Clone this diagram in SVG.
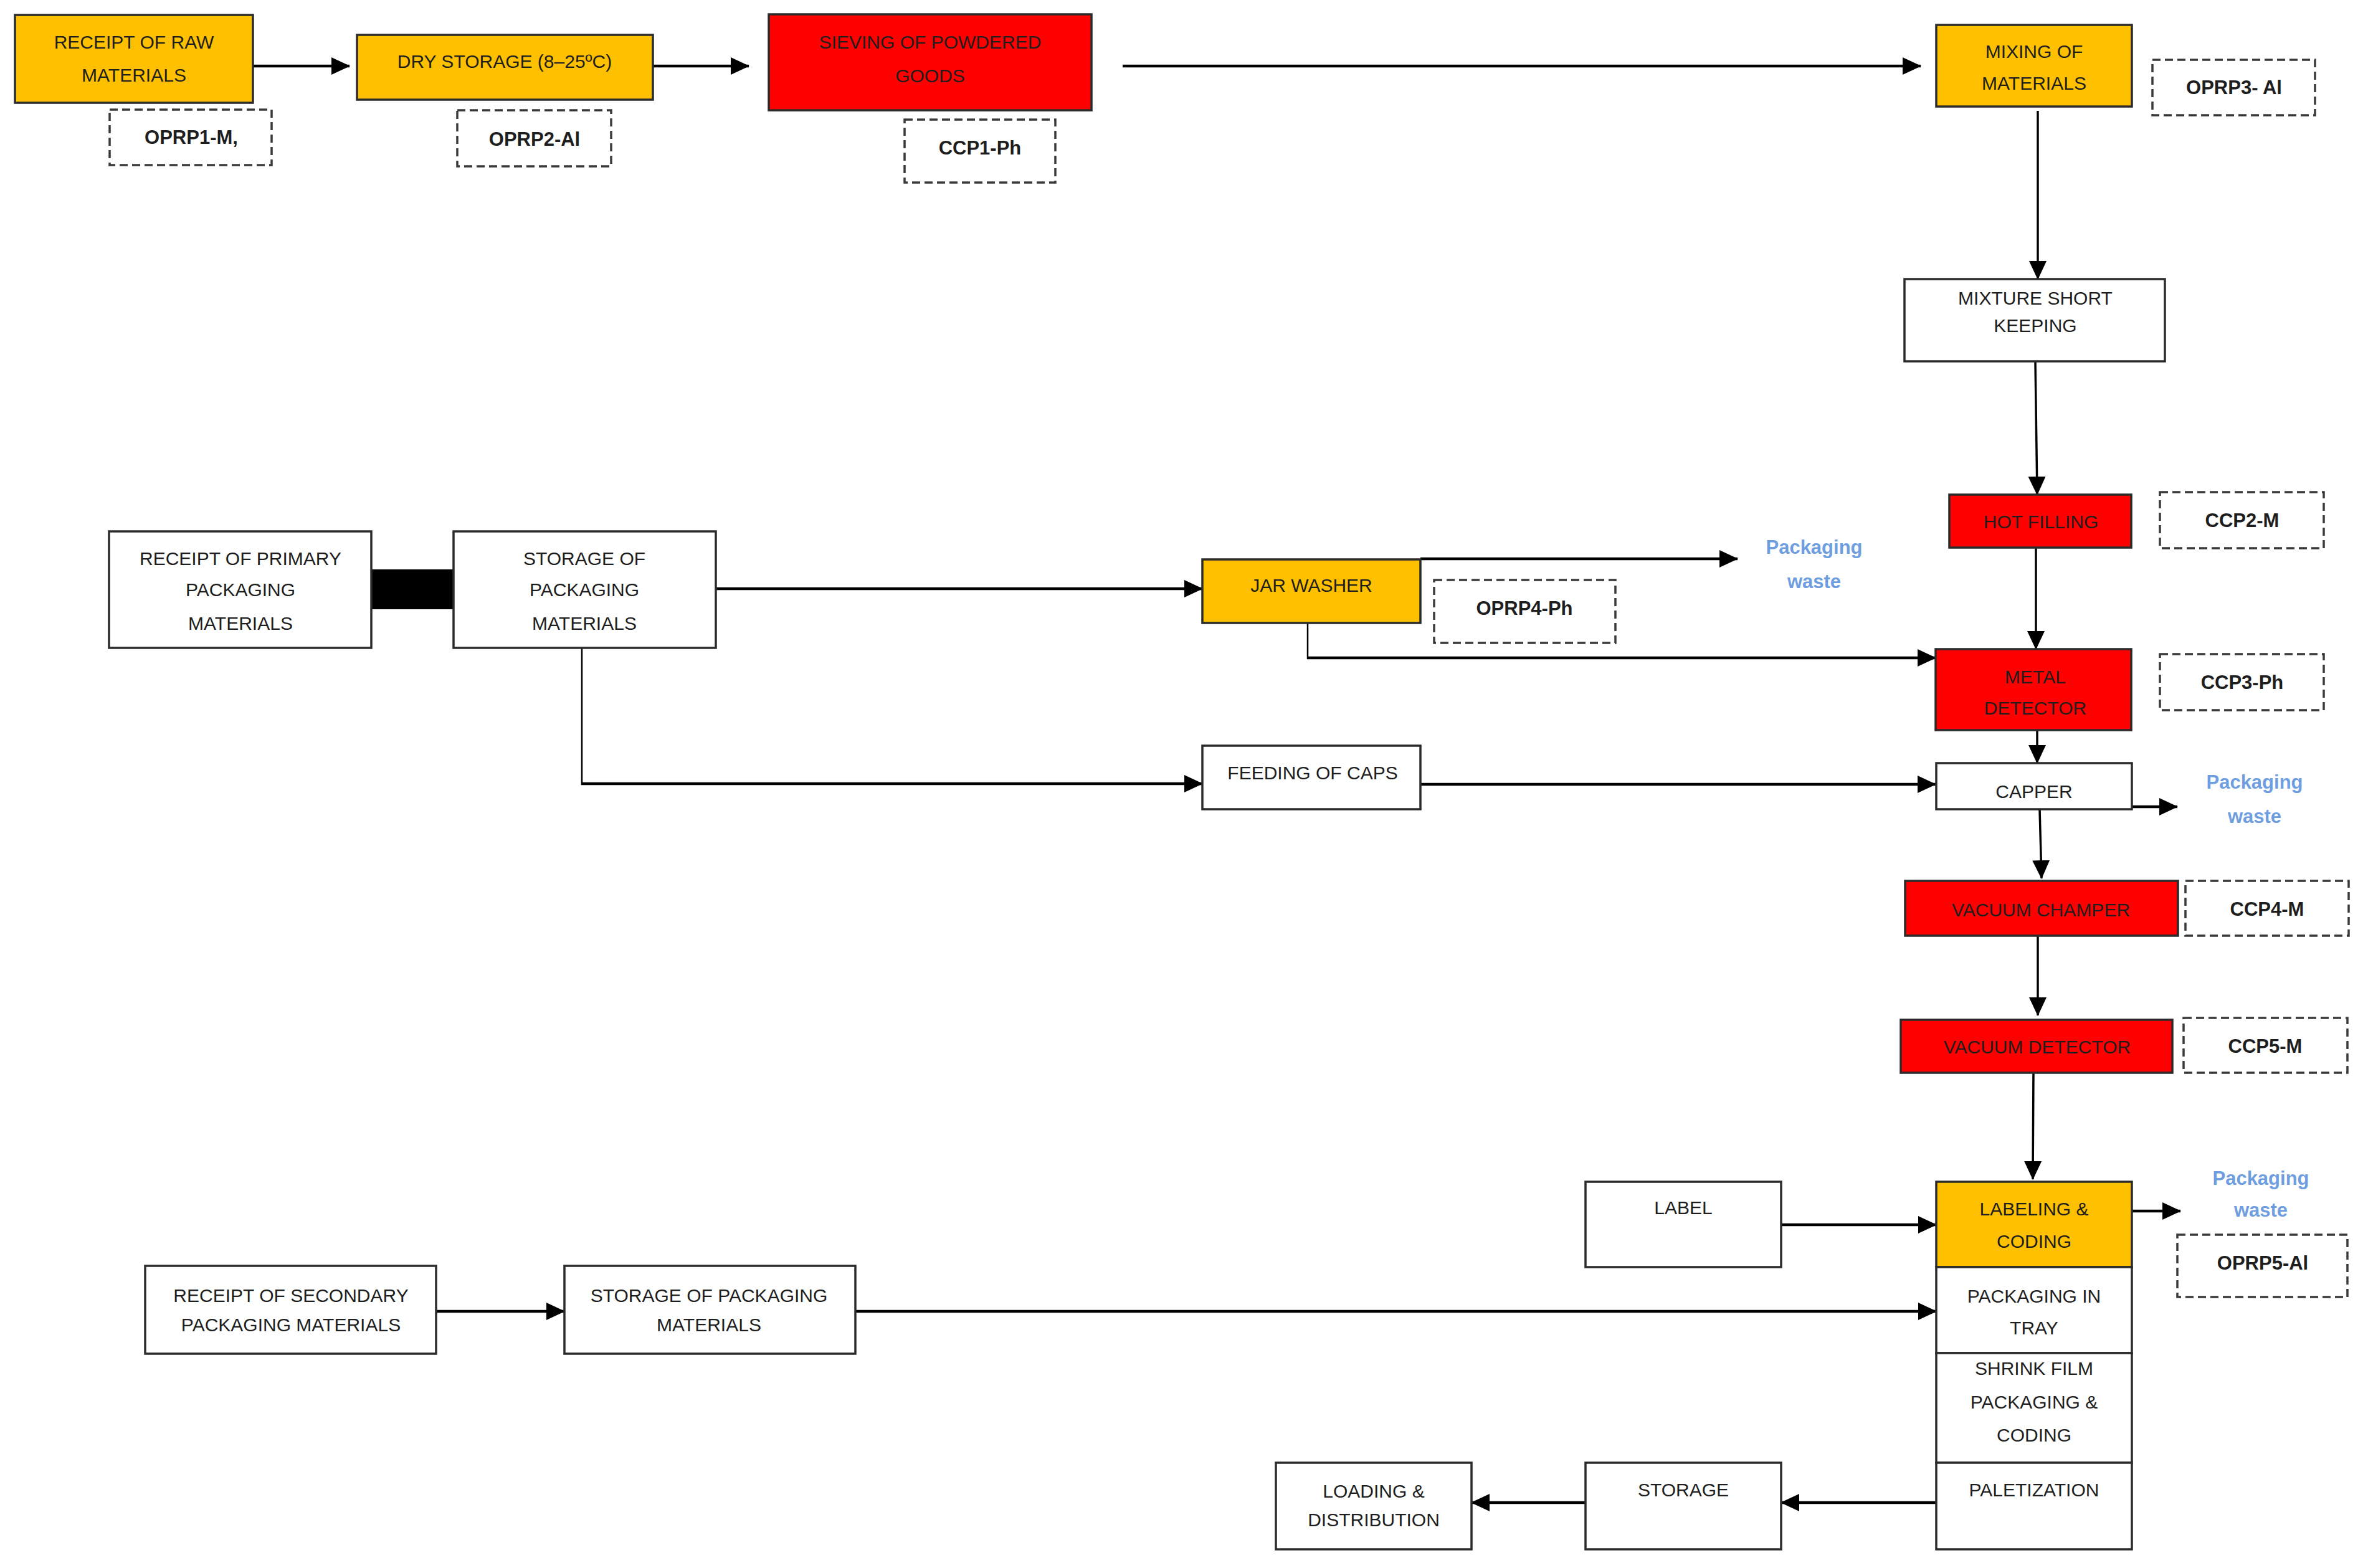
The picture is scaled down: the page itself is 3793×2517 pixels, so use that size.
<svg xmlns="http://www.w3.org/2000/svg" width="3793" height="2517" viewBox="0 0 3793 2517">
<style>
.box{stroke:#2b2b2b;stroke-width:3.5}
.w{fill:#ffffff}
.o{fill:#FFC000}
.r{fill:#FF0000}
.d{fill:#ffffff;stroke:#3a3a3a;stroke-width:3.5;stroke-dasharray:13 7}
.t{font-family:"Liberation Sans",Arial,sans-serif;font-size:30px;fill:#1e1e1e;text-anchor:middle}
.c{font-family:"Liberation Sans",Arial,sans-serif;font-size:31px;font-weight:bold;fill:#1e1e1e;text-anchor:middle}
.pw{font-family:"Liberation Sans",Arial,sans-serif;font-size:31px;font-weight:bold;fill:#6F9EE0;text-anchor:middle}
.ln{fill:none;stroke:#000;stroke-width:4.5;marker-end:url(#ah)}
.vl{fill:none;stroke:#000;stroke-width:3.5;marker-end:url(#ah)}
.pl{fill:none;stroke:#000;stroke-width:2.5}
</style>
<defs>
<marker id="ah" markerUnits="userSpaceOnUse" markerWidth="30" markerHeight="30" viewBox="0 0 30 30" refX="29" refY="15" orient="auto">
<path d="M0,1 L30,15 L0,29 Z" fill="#000"/>
</marker>
</defs>
<rect width="3793" height="2517" fill="#ffffff"/>

<g id="connectors">
<line class="ln" x1="406" y1="106" x2="561" y2="106"/>
<line class="ln" x1="1048" y1="106" x2="1202" y2="106"/>
<line class="ln" x1="1802" y1="106" x2="3083" y2="106"/>
<line class="vl" x1="3271" y1="178" x2="3271" y2="448"/>
<line class="vl" x1="3267" y1="580" x2="3270" y2="794"/>
<line class="vl" x1="3268" y1="879" x2="3268" y2="1042"/>
<line class="vl" x1="3270" y1="1172" x2="3270" y2="1225"/>
<line class="vl" x1="3274" y1="1299" x2="3277" y2="1410"/>
<line class="vl" x1="3271" y1="1502" x2="3271" y2="1630"/>
<line class="vl" x1="3264" y1="1722" x2="3263" y2="1893"/>
<rect x="596" y="914" width="132" height="64" fill="#000"/>
<line class="ln" x1="1149" y1="945" x2="1930" y2="945"/>
<line class="pl" x1="934" y1="1040" x2="934" y2="1260"/>
<line class="ln" x1="933" y1="1258" x2="1930" y2="1258"/>
<line class="ln" x1="2280" y1="897" x2="2789" y2="897"/>
<line class="pl" x1="2099" y1="1000" x2="2099" y2="1058"/>
<line class="ln" x1="2098" y1="1056" x2="3107" y2="1056"/>
<line class="ln" x1="2280" y1="1259" x2="3107" y2="1259"/>
<line class="ln" x1="3421" y1="1295" x2="3495" y2="1295"/>
<line class="ln" x1="2859" y1="1966" x2="3108" y2="1966"/>
<line class="ln" x1="3422" y1="1944" x2="3500" y2="1944"/>
<line class="ln" x1="700" y1="2105" x2="906" y2="2105"/>
<line class="ln" x1="1373" y1="2105" x2="3108" y2="2105"/>
<line class="ln" x1="3108" y1="2412" x2="2859" y2="2412"/>
<line class="ln" x1="2545" y1="2412" x2="2362" y2="2412"/>
</g>

<g id="receipt-raw"><rect class="box o" x="24" y="24" width="382" height="141"/><text class="t" x="215" y="78">RECEIPT OF RAW</text><text class="t" x="215" y="131">MATERIALS</text></g>
<g id="oprp1"><rect class="d" x="176" y="176" width="260" height="89"/><text class="c" x="307" y="231">OPRP1-M,</text></g>
<g id="dry-storage"><rect class="box o" x="573" y="56" width="475" height="104"/><text class="t" x="810" y="109">DRY STORAGE (8–25ºC)</text></g>
<g id="oprp2"><rect class="d" x="734" y="177" width="247" height="90"/><text class="c" x="858" y="234">OPRP2-Al</text></g>
<g id="sieving"><rect class="box r" x="1234" y="23" width="518" height="154"/><text class="t" x="1493" y="78">SIEVING OF POWDERED</text><text class="t" x="1493" y="132">GOODS</text></g>
<g id="ccp1"><rect class="d" x="1452" y="192" width="242" height="101"/><text class="c" x="1573" y="248">CCP1-Ph</text></g>
<g id="mixing"><rect class="box o" x="3108" y="40" width="314" height="131"/><text class="t" x="3265" y="93">MIXING OF</text><text class="t" x="3265" y="144">MATERIALS</text></g>
<g id="oprp3"><rect class="d" x="3455" y="96" width="261" height="89"/><text class="c" x="3586" y="151">OPRP3- Al</text></g>
<g id="mixture"><rect class="box w" x="3057" y="448" width="418" height="132"/><text class="t" x="3267" y="489">MIXTURE SHORT</text><text class="t" x="3267" y="533">KEEPING</text></g>
<g id="hot-filling"><rect class="box r" x="3129" y="794" width="292" height="85"/><text class="t" x="3276" y="848">HOT FILLING</text></g>
<g id="ccp2"><rect class="d" x="3467" y="790" width="263" height="90"/><text class="c" x="3599" y="846">CCP2-M</text></g>
<g id="receipt-primary"><rect class="box w" x="175" y="853" width="421" height="187"/><text class="t" x="386" y="907">RECEIPT OF PRIMARY</text><text class="t" x="386" y="957">PACKAGING</text><text class="t" x="386" y="1011">MATERIALS</text></g>
<g id="storage-primary"><rect class="box w" x="728" y="853" width="421" height="187"/><text class="t" x="938" y="907">STORAGE OF</text><text class="t" x="938" y="957">PACKAGING</text><text class="t" x="938" y="1011">MATERIALS</text></g>
<g id="jar-washer"><rect class="box o" x="1930" y="898" width="350" height="102"/><text class="t" x="2105" y="950">JAR WASHER</text></g>
<g id="oprp4"><rect class="d" x="2302" y="931" width="291" height="101"/><text class="c" x="2447" y="987">OPRP4-Ph</text></g>
<g id="waste1"><text class="pw" x="2912" y="889">Packaging</text><text class="pw" x="2912" y="944">waste</text></g>
<g id="metal-detector"><rect class="box r" x="3107" y="1042" width="314" height="130"/><text class="t" x="3267" y="1097">METAL</text><text class="t" x="3267" y="1147">DETECTOR</text></g>
<g id="ccp3"><rect class="d" x="3467" y="1050" width="263" height="90"/><text class="c" x="3599" y="1106">CCP3-Ph</text></g>
<g id="feeding-caps"><rect class="box w" x="1930" y="1197" width="350" height="102"/><text class="t" x="2107" y="1251">FEEDING OF CAPS</text></g>
<g id="capper"><rect class="box w" x="3108" y="1225" width="314" height="74"/><text class="t" x="3265" y="1281">CAPPER</text></g>
<g id="waste2"><text class="pw" x="3619" y="1266">Packaging</text><text class="pw" x="3619" y="1321">waste</text></g>
<g id="vacuum-champer"><rect class="box r" x="3058" y="1414" width="438" height="88"/><text class="t" x="3276" y="1471">VACUUM CHAMPER</text></g>
<g id="ccp4"><rect class="d" x="3508" y="1414" width="262" height="88"/><text class="c" x="3639" y="1470">CCP4-M</text></g>
<g id="vacuum-detector"><rect class="box r" x="3051" y="1637" width="436" height="85"/><text class="t" x="3270" y="1691">VACUUM DETECTOR</text></g>
<g id="ccp5"><rect class="d" x="3505" y="1634" width="263" height="88"/><text class="c" x="3636" y="1690">CCP5-M</text></g>
<g id="label"><rect class="box w" x="2545" y="1897" width="314" height="137"/><text class="t" x="2702" y="1949">LABEL</text></g>
<g id="labeling"><rect class="box o" x="3108" y="1897" width="314" height="137"/><text class="t" x="3265" y="1951">LABELING &amp;</text><text class="t" x="3265" y="2003">CODING</text></g>
<g id="waste3"><text class="pw" x="3629" y="1902">Packaging</text><text class="pw" x="3629" y="1953">waste</text></g>
<g id="oprp5"><rect class="d" x="3495" y="1982" width="273" height="100"/><text class="c" x="3632" y="2038">OPRP5-Al</text></g>
<g id="packaging-tray"><rect class="box w" x="3108" y="2034" width="314" height="138"/><text class="t" x="3265" y="2091">PACKAGING IN</text><text class="t" x="3265" y="2142">TRAY</text></g>
<g id="shrink-film"><rect class="box w" x="3108" y="2172" width="314" height="176"/><text class="t" x="3265" y="2207">SHRINK FILM</text><text class="t" x="3265" y="2261">PACKAGING &amp;</text><text class="t" x="3265" y="2314">CODING</text></g>
<g id="paletization"><rect class="box w" x="3108" y="2348" width="314" height="139"/><text class="t" x="3265" y="2402">PALETIZATION</text></g>
<g id="storage"><rect class="box w" x="2545" y="2348" width="314" height="139"/><text class="t" x="2702" y="2402">STORAGE</text></g>
<g id="loading"><rect class="box w" x="2048" y="2348" width="314" height="139"/><text class="t" x="2205" y="2404">LOADING &amp;</text><text class="t" x="2205" y="2450">DISTRIBUTION</text></g>
<g id="receipt-secondary"><rect class="box w" x="233" y="2032" width="467" height="141"/><text class="t" x="467" y="2090">RECEIPT OF SECONDARY</text><text class="t" x="467" y="2137">PACKAGING MATERIALS</text></g>
<g id="storage-secondary"><rect class="box w" x="906" y="2032" width="467" height="141"/><text class="t" x="1138" y="2090">STORAGE OF PACKAGING</text><text class="t" x="1138" y="2137">MATERIALS</text></g>
</svg>
